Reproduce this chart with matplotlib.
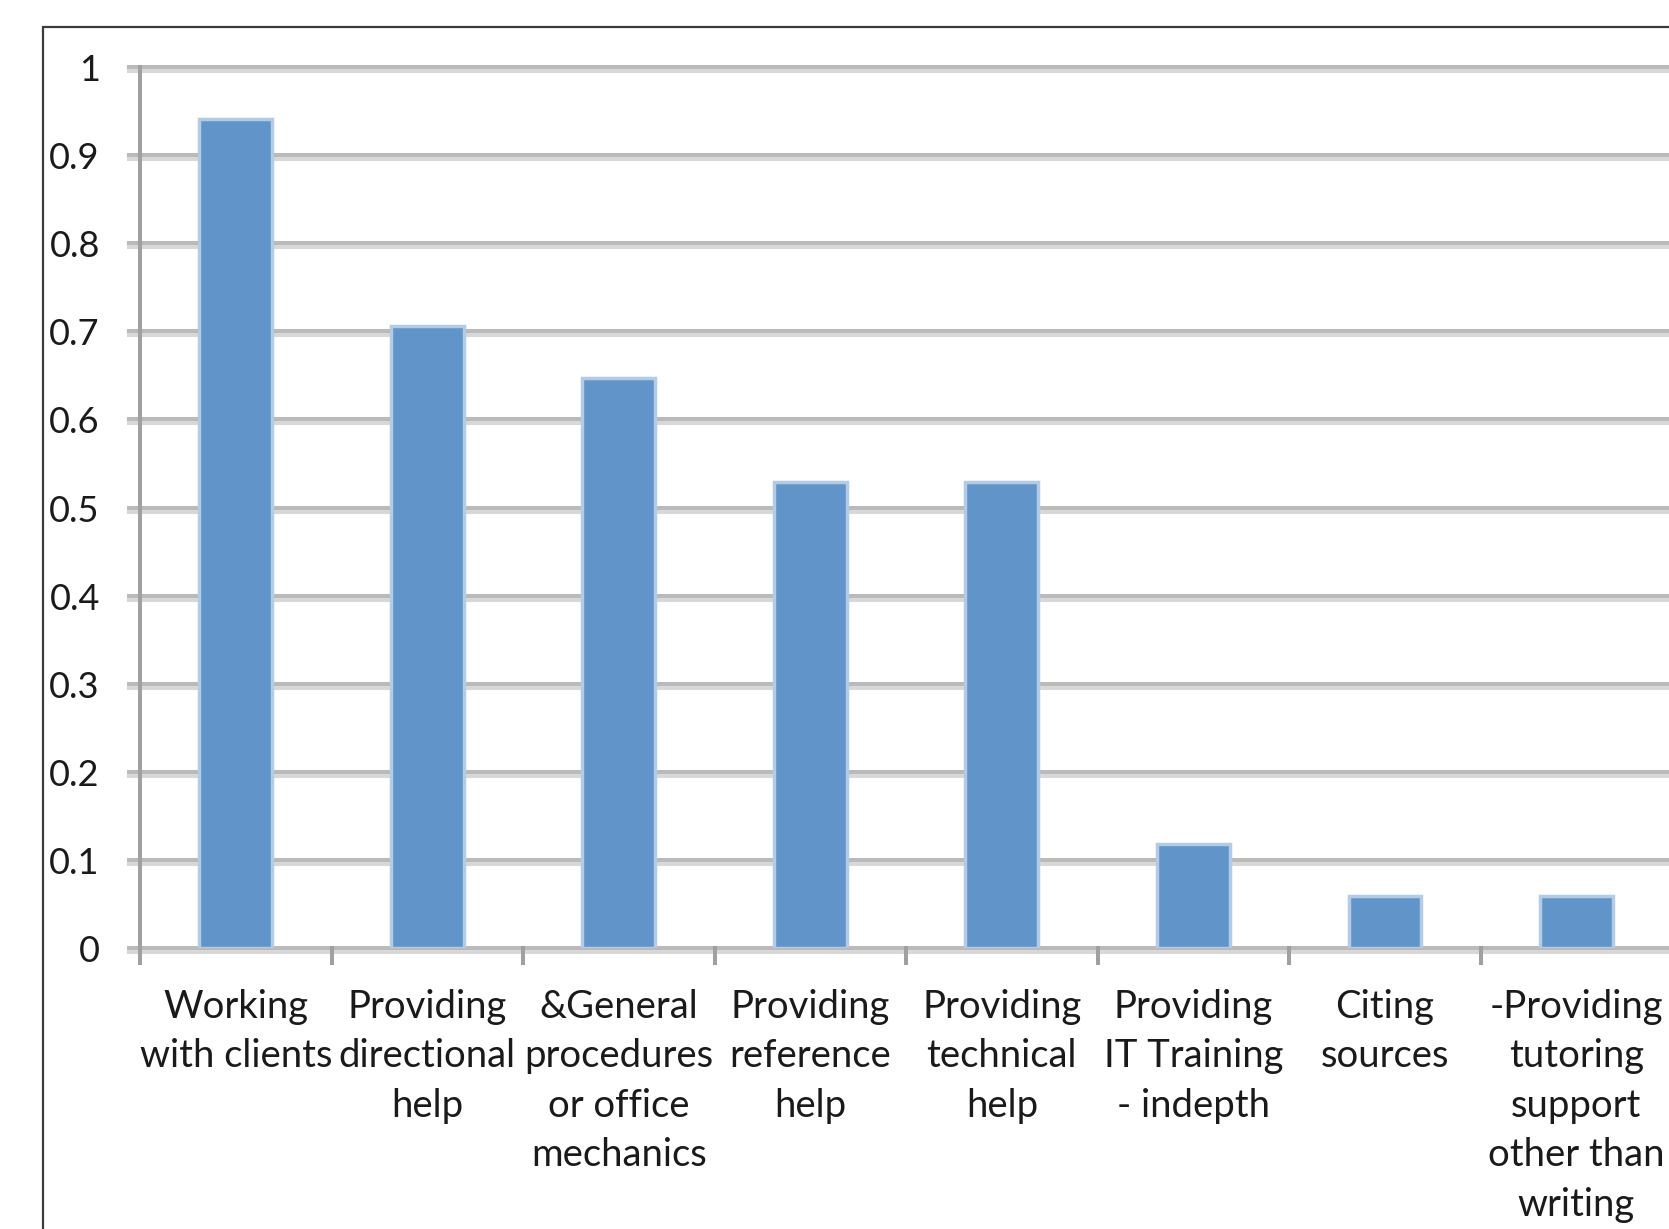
import matplotlib.pyplot as plt
import matplotlib.transforms as mtransforms
from matplotlib.patches import Rectangle

# Share of responses per task (out of 17)
categories = [
    "Working\nwith clients",
    "Providing\ndirectional\nhelp",
    "&General\nprocedures\nor office\nmechanics",
    "Providing\nreference\nhelp",
    "Providing\ntechnical\nhelp",
    "Providing\nIT Training\n- indepth",
    "Citing\nsources",
    "-Providing\ntutoring\nsupport\nother than\nwriting",
]
values = [16 / 17, 12 / 17, 11 / 17, 9 / 17, 9 / 17, 2 / 17, 1 / 17, 1 / 17]
yticks = [0, 0.1, 0.2, 0.3, 0.4, 0.5, 0.6, 0.7, 0.8, 0.9, 1]
ytick_labels = ["0", "0.1", "0.2", "0.3", "0.4", "0.5", "0.6", "0.7", "0.8", "0.9", "1"]

plt.rcParams['font.family'] = ['Lato', 'DejaVu Sans']

fig = plt.figure(figsize=(16.69, 12.29), dpi=100)
ax = fig.add_axes([0.0839, 0.2286, 0.918, 0.7169])

# outer chart frame
fig.patches.append(Rectangle((0.0257, -0.1), 1.2, 1.0783, transform=fig.transFigure,
                             fill=False, edgecolor='#3c3c3c', linewidth=1.6))

# gridlines: dark band with a lighter band just below
shift = mtransforms.ScaledTranslation(0, -4 / 100, fig.dpi_scale_trans)
for y in yticks:
    ax.plot([-0.57, 7.6], [y, y], color='#bababa', lw=2.9, clip_on=False,
            solid_capstyle='butt', zorder=1)
    ax.plot([-0.57, 7.6], [y, y], color='#d8d8d8', lw=2.9, clip_on=False,
            solid_capstyle='butt', zorder=1, transform=ax.transData + shift)

x = list(range(len(categories)))
ax.bar(x, values, width=0.38, color='#6194c8', edgecolor='#b3cbe5',
       linewidth=2.5, zorder=3)

# y axis line and category tick marks
ax.plot([-0.5, -0.5], [0, 1], color='#a0a0a0', lw=2.9, clip_on=False, zorder=2)
for b in range(len(categories) + 1):
    ax.plot([b - 0.5, b - 0.5], [0, -0.017], color='#a0a0a0', lw=2.9,
            clip_on=False, zorder=2)

ax.set_xlim(-0.5, 7.5)
ax.set_ylim(0, 1)
for s in ax.spines.values():
    s.set_visible(False)
ax.set_xticks([])
ax.set_yticks([])

for y, lab in zip(yticks, ytick_labels):
    ax.text(-0.71, y - 0.004, lab, ha='right', va='center', fontsize=26,
            color='#1a1a1a')

for i, lab in enumerate(categories):
    ax.text(i, -0.046, lab, ha='center', va='top', fontsize=27.5, color='#1a1a1a',
            linespacing=1.47)

fig.savefig('out.png', dpi=100)
